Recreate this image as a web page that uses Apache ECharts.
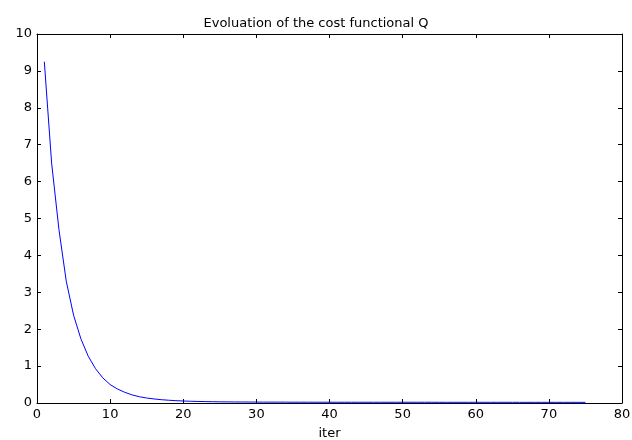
<!DOCTYPE html>
<html>
<head>
<meta charset="utf-8">
<title>Evoluation of the cost functional Q</title>
<script src="https://cdn.jsdelivr.net/npm/echarts@6/dist/echarts.min.js"></script>
<style>
  html, body { margin: 0; padding: 0; background: #fff; }
  #main { width: 632px; height: 440px; }
</style>
</head>
<body>
<div id="main"></div>
<script>
// iterations
const iters = [
  1, 2, 3, 4, 5, 6, 7, 8, 9, 10,
  11, 12, 13, 14, 15, 16, 17, 18, 19, 20,
  21, 22, 23, 24, 25, 26, 27, 28, 29, 30,
  31, 32, 33, 34, 35, 36, 37, 38, 39, 40,
  41, 42, 43, 44, 45, 46, 47, 48, 49, 50,
  51, 52, 53, 54, 55, 56, 57, 58, 59, 60,
  61, 62, 63, 64, 65, 66, 67, 68, 69, 70,
  71, 72, 73, 74, 75
];

// cost functional Q
const costQ = [
  9.25, 6.5, 4.7, 3.3, 2.38, 1.74, 1.27, 0.93, 0.68, 0.5,
  0.38, 0.29, 0.22, 0.17, 0.135, 0.11, 0.09, 0.075, 0.063, 0.054,
  0.047, 0.042, 0.038, 0.035, 0.032, 0.03, 0.028, 0.027, 0.026, 0.025,
  0.024, 0.024, 0.023, 0.023, 0.022, 0.022, 0.022, 0.021, 0.021, 0.021,
  0.02, 0.02, 0.02, 0.02, 0.02, 0.02, 0.02, 0.02, 0.02, 0.02,
  0.02, 0.02, 0.02, 0.02, 0.019, 0.019, 0.019, 0.019, 0.019, 0.019,
  0.019, 0.019, 0.019, 0.019, 0.019, 0.018, 0.018, 0.018, 0.018, 0.018,
  0.018, 0.018, 0.018, 0.018, 0.018
];

// axis ranges / ticks
const xTicks = [0, 10, 20, 30, 40, 50, 60, 70, 80];
const yTicks = [0, 1, 2, 3, 4, 5, 6, 7, 8, 9, 10];

// wide-ish sans, the original text looks stretched
const FONT = 'DejaVu Sans, Arial, sans-serif';

// matlab-style box: ticks inside on all four sides
function boxAxis(extra) {
  return Object.assign({
    type: 'value',
    axisLine: { show: true, onZero: false, lineStyle: { color: '#000', width: 1 } },
    axisTick: { show: true, inside: true, length: 4, lineStyle: { color: '#000', width: 1 } },
    splitLine: { show: false },
    axisLabel: { show: false }
  }, extra);
}

const chart = echarts.init(document.getElementById('main'), null, { renderer: 'canvas' });

chart.setOption({
  backgroundColor: '#fff',
  animation: false,
  title: {
    text: 'Evoluation of the cost functional Q',
    left: 'center',
    top: 12,
    textStyle: { fontFamily: FONT, fontSize: 13, fontWeight: 'normal', color: '#000' }
  },
  // fixed plot box, don't let v6 shrink it to fit the labels
  grid: { left: 37, right: 10, top: 34, bottom: 37, outerBoundsMode: 'none' },
  xAxis: [
    boxAxis({
      position: 'bottom',
      min: xTicks[0], max: xTicks[xTicks.length - 1], interval: 10,
      name: 'iter',
      nameLocation: 'middle',
      nameGap: 24,
      nameTextStyle: { fontFamily: FONT, fontSize: 13, color: '#000' },
      axisLabel: { show: true, margin: 5, fontFamily: FONT, fontSize: 13, color: '#000' }
    }),
    boxAxis({ position: 'top', min: xTicks[0], max: xTicks[xTicks.length - 1], interval: 10 })
  ],
  yAxis: [
    boxAxis({
      position: 'left',
      min: yTicks[0], max: yTicks[yTicks.length - 1], interval: 1,
      axisLabel: { show: true, margin: 5, fontFamily: FONT, fontSize: 13, color: '#000' }
    }),
    boxAxis({ position: 'right', min: yTicks[0], max: yTicks[yTicks.length - 1], interval: 1 })
  ],
  series: [{
    type: 'line',
    xAxisIndex: 0,
    yAxisIndex: 0,
    data: iters.map((it, i) => [it, costQ[i]]),
    showSymbol: false,
    lineStyle: { color: '#0000ff', width: 1 },
    itemStyle: { color: '#0000ff' }
  }]
});
</script>
</body>
</html>
